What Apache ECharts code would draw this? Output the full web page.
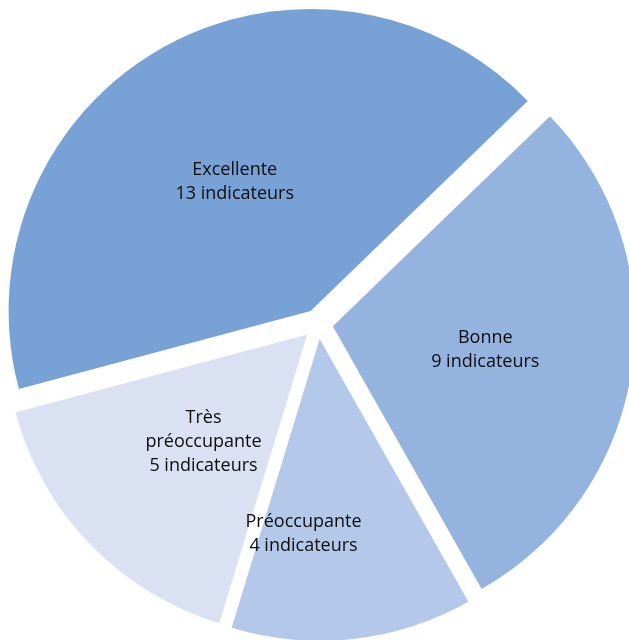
<!DOCTYPE html>
<html>
<head>
<meta charset="utf-8">
<script src="https://cdn.jsdelivr.net/npm/echarts@6/dist/echarts.min.js"></script>
<style>
  html, body { margin: 0; padding: 0; background: #fff; }
  #main { width: 629px; height: 640px; }
</style>
</head>
<body>
<div id="main"></div>
<script>
// données du graphique
var categories = ['Excellente', 'Bonne', 'Préoccupante', 'Très\npréoccupante'];
var values = [13, 9, 4, 5];
var colors = ['#78A1D5', '#95B3DF', '#B4C8E9', '#DAE1F2'];

var chart = echarts.init(document.getElementById('main'));

var data = categories.map(function (name, i) {
  return {
    name: name,
    value: values[i],
    selected: true,
    itemStyle: { color: colors[i] }
  };
});

// petits décalages des étiquettes (placées à la main dans l'original)
var labelShift = [[0, 5], [0, 2], [-33, 42], [7, 0]];

chart.setOption({
  animation: false,
  series: [{
    type: 'pie',
    center: [318, 324],
    radius: 302,
    startAngle: 195,
    clockwise: true,
    selectedMode: 'multiple',
    selectedOffset: 15,
    emphasis: { disabled: true },
    itemStyle: { borderWidth: 0 },
    label: {
      show: true,
      position: 'inner',
      color: '#0d0d0d',
      fontFamily: 'Open Sans',
      fontSize: 18,
      lineHeight: 24,
      align: 'center',
      formatter: function (p) {
        return p.name + '\n' + p.value + ' indicateurs';
      }
    },
    labelLine: { show: false },
    labelLayout: function (p) {
      var s = labelShift[p.dataIndex];
      return { dx: s[0], dy: s[1] };
    },
    data: data
  }]
});
</script>
</body>
</html>
